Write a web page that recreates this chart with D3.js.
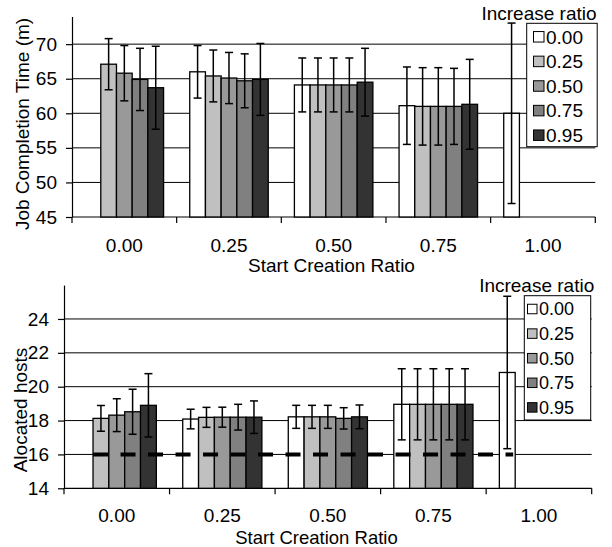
<!DOCTYPE html>
<html>
<head>
<meta charset="utf-8">
<script src="https://cdn.jsdelivr.net/npm/d3@7"></script>
<style>
  body { margin: 0; background: #fff; }
  text { font-family: "Liberation Sans", Arial, sans-serif; fill: #000; }
</style>
</head>
<body>
<svg id="chart" width="612" height="547"></svg>
<script>
// start creation ratio groups and increase ratio series
const categories = ["0.00", "0.25", "0.50", "0.75", "1.00"];
const ratios = ["0.00", "0.25", "0.50", "0.75", "0.95"];
const fills = ["#ffffff", "#c0c0c0", "#999999", "#808080", "#333333"];

// job completion time (m), one row per start creation ratio
const timeMean = [
    [null, 67.1, 65.8, 64.9, 63.7],
    [66.0, 65.4, 65.1, 64.7, 64.9],
    [64.1, 64.1, 64.1, 64.1, 64.5],
    [61.1, 61.0, 61.0, 61.0, 61.3],
    [60.0, null, null, null, null]
];
const timeErr = [
    [null, 3.7, 4.0, 4.5, 6.0],
    [3.8, 3.75, 3.7, 3.9, 5.2],
    [3.9, 3.9, 3.9, 3.9, 4.9],
    [5.6, 5.6, 5.6, 5.5, 6.5],
    [13.05, null, null, null, null]
];
const timeTicks = [45, 50, 55, 60, 65, 70];

// allocated hosts
const hostMean = [
    [null, 18.13, 18.32, 18.52, 18.9],
    [18.09, 18.19, 18.2, 18.2, 18.2],
    [18.22, 18.22, 18.22, 18.13, 18.22],
    [18.96, 18.96, 18.96, 18.96, 18.96],
    [20.84, null, null, null, null]
];
const hostErr = [
    [null, 0.76, 0.97, 1.33, 1.87],
    [0.58, 0.59, 0.59, 0.76, 0.96],
    [0.68, 0.68, 0.68, 0.63, 0.7],
    [2.1, 2.1, 2.1, 2.1, 2.1],
    [4.5, null, null, null, null]
];
const hostTicks = [14, 16, 18, 20, 22, 24];
const hostBaseline = 16;

var svg = d3.select("#chart");

function drawPanel(o) {
    var g = svg.append("g");
    var x0 = d3.scaleBand().domain(categories).range([o.left, o.right]);
    var bw = x0.bandwidth();
    var x1 = d3.scaleBand().domain(ratios).range([bw * 0.125, bw * 0.875]);
    var y = d3.scaleLinear().domain(o.domain).range([o.bottom, o.top]);

    // horizontal grid
    g.selectAll(".grid").data(o.ticks.slice(1)).enter().append("line")
        .attr("x1", o.left).attr("x2", o.right)
        .attr("y1", function (d) { return y(d); }).attr("y2", function (d) { return y(d); })
        .attr("stroke", "#000").attr("stroke-width", 1);

    // y axis
    var ya = g.append("g").attr("transform", "translate(" + o.left + ",0)")
        .call(d3.axisLeft(y).tickValues(o.ticks).tickSize(6).tickSizeOuter(0).tickPadding(9).tickFormat(d3.format("d")));
    ya.attr("font-size", 19).attr("font-family", null);
    ya.selectAll("path,line").attr("stroke", "#000").attr("stroke-width", 1.2);

    // x axis: labels centered, ticks at band edges
    var xa = g.append("g").attr("transform", "translate(0," + o.bottom + ")")
        .call(d3.axisBottom(x0).tickSize(0).tickPadding(o.xPad));
    xa.attr("font-size", 19).attr("font-family", null);
    xa.select(".domain").remove();
    g.append("line").attr("x1", o.left).attr("x2", o.right).attr("y1", o.bottom).attr("y2", o.bottom)
        .attr("stroke", "#000").attr("stroke-width", 1.2);
    var edges = categories.map(function (c) { return x0(c); }).concat([o.right]);
    g.selectAll(".xt").data(edges).enter().append("line")
        .attr("x1", function (d) { return d; }).attr("x2", function (d) { return d; })
        .attr("y1", o.bottom).attr("y2", o.bottom + 6)
        .attr("stroke", "#000").attr("stroke-width", 1.2);

    // bars
    var cells = [];
    categories.forEach(function (c, i) {
        ratios.forEach(function (r, j) {
            if (o.mean[i][j] != null) cells.push({ c: c, r: r, j: j, v: o.mean[i][j], e: o.err[i][j] });
        });
    });
    g.selectAll(".bar").data(cells).enter().append("rect")
        .attr("x", function (d) { return x0(d.c) + x1(d.r); })
        .attr("y", function (d) { return y(d.v); })
        .attr("width", x1.bandwidth())
        .attr("height", function (d) { return o.bottom - y(d.v); })
        .attr("fill", function (d) { return fills[d.j]; })
        .attr("stroke", "#000").attr("stroke-width", 1.3);

    // baseline (dashed)
    if (o.baseline != null) {
        var first = cells[0], last = cells[cells.length - 1];
        g.append("line")
            .attr("x1", x0(first.c) + x1(first.r))
            .attr("x2", x0(last.c) + x1(last.r) + x1.bandwidth() - 2)
            .attr("y1", y(o.baseline)).attr("y2", y(o.baseline))
            .attr("stroke", "#000").attr("stroke-width", 4).attr("stroke-dasharray", "15,12.5");
    }

    // error bars
    var cap = 4;
    var eb = g.selectAll(".err").data(cells).enter().append("g");
    eb.append("line")
        .attr("x1", function (d) { return x0(d.c) + x1(d.r) + x1.bandwidth() / 2; })
        .attr("x2", function (d) { return x0(d.c) + x1(d.r) + x1.bandwidth() / 2; })
        .attr("y1", function (d) { return y(d.v - d.e); })
        .attr("y2", function (d) { return y(d.v + d.e); })
        .attr("stroke", "#000").attr("stroke-width", 1.5);
    [-1, 1].forEach(function (s) {
        eb.append("line")
            .attr("x1", function (d) { return x0(d.c) + x1(d.r) + x1.bandwidth() / 2 - cap; })
            .attr("x2", function (d) { return x0(d.c) + x1(d.r) + x1.bandwidth() / 2 + cap; })
            .attr("y1", function (d) { return y(d.v + s * d.e); })
            .attr("y2", function (d) { return y(d.v + s * d.e); })
            .attr("stroke", "#000").attr("stroke-width", 1.5);
    });

    // legend
    var L = o.legend;
    g.append("text").attr("x", L.titleX).attr("y", L.titleY).attr("text-anchor", "middle")
        .attr("font-size", 19).text("Increase ratio");
    g.append("rect").attr("x", L.x).attr("y", L.y).attr("width", L.w).attr("height", L.h)
        .attr("fill", "#fff").attr("stroke", "#000").attr("stroke-width", 1);
    var items = g.selectAll(".leg").data(ratios).enter().append("g")
        .attr("transform", function (d, i) { return "translate(" + L.sx + "," + (L.cy + i * L.step) + ")"; });
    items.append("rect").attr("x", 0).attr("y", -L.sw / 2).attr("width", L.sw).attr("height", L.sw)
        .attr("fill", function (d, i) { return fills[i]; }).attr("stroke", "#000").attr("stroke-width", 1);
    items.append("text").attr("x", L.sw + 2).attr("dy", "0.36em").attr("font-size", L.fs).text(function (d) { return d; });

    // axis titles
    g.append("text").attr("transform", "translate(" + o.yTitle[0] + "," + o.yTitle[1] + ") rotate(-90)")
        .attr("text-anchor", "middle").attr("font-size", 19).text(o.yLabel);
    g.append("text").attr("x", o.xTitle[0]).attr("y", o.xTitle[1])
        .attr("text-anchor", "middle").attr("font-size", o.xTitle[2]).text("Start Creation Ratio");
}

drawPanel({
    left: 72, right: 595.3, top: 16.5, bottom: 217,
    domain: [45, 74], ticks: timeTicks, xPad: 22,
    mean: timeMean, err: timeErr,
    yLabel: "Job Completion Time (m)", yTitle: [29, 124], xTitle: [331.5, 272, 19],
    legend: { titleX: 539, titleY: 20, x: 526.7, y: 23.3, w: 70.5, h: 123.4,
              sx: 533.5, cy: 36.8, step: 24.6, sw: 10.5, fs: 19 }
});

drawPanel({
    left: 64, right: 591.7, top: 285.1, bottom: 488.3,
    domain: [14, 26], ticks: hostTicks, xPad: 20.5,
    mean: hostMean, err: hostErr, baseline: hostBaseline,
    yLabel: "Alocated hosts", yTitle: [27, 410], xTitle: [316.5, 543.5, 18.5],
    legend: { titleX: 536.7, titleY: 291.5, x: 524.3, y: 295.7, w: 66.4, h: 124.3,
              sx: 527.5, cy: 309, step: 24.6, sw: 9.5, fs: 18 }
});
</script>
</body>
</html>
